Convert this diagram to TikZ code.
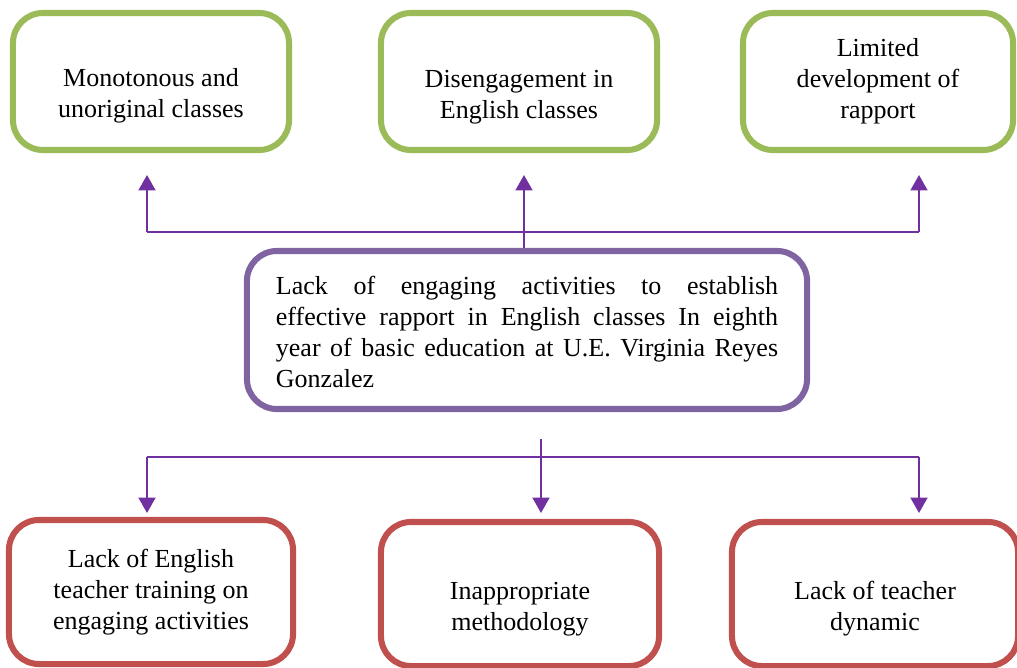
\documentclass[tikz,border=0pt]{standalone}
\usepackage{fontspec}
\setmainfont{Liberation Serif}
\usetikzlibrary{arrows.meta}

\definecolor{effgreen}{HTML}{9BBB59}
\definecolor{causered}{HTML}{C0504D}
\definecolor{corepurple}{HTML}{8064A2}
\definecolor{linkpurple}{HTML}{7030A0}

% invisible strut that pushes a box's text downwards
\newcommand{\dropby}[1]{\rule{0pt}{#1}}

\tikzset{
  treebox/.style={draw, line width=4.3pt, rounded corners=0.75cm, fill=white,
    align=center, font=\fontsize{18.5}{22}\selectfont, inner sep=0pt},
  effbox/.style={treebox, draw=effgreen, minimum height=3.425cm},
  causebox/.style={treebox, draw=causered, minimum height=3.6cm},
  link/.style={draw=linkpurple, line width=1.6pt},
  tip/.style={-{Triangle[width=12pt,length=11pt]}}
}

\begin{document}
\begin{tikzpicture}[x=0.025cm, y=-0.025cm]
    \useasboundingbox (0,0) rectangle (1017,668);
    \clip (0,0) rectangle (1017,668);

    % effects
    \node[effbox, minimum width=6.9cm] (eff1) at (151,81.5)
        {\dropby{32.5pt}Monotonous and\\unoriginal classes};
    \node[effbox, minimum width=6.9cm] (eff2) at (519,81.5)
        {\dropby{34pt}Disengagement in\\English classes};
    \node[effbox, minimum width=6.75cm] (eff3) at (878,81.5)
        {Limited\\development of\\rapport};

    % central problem
    \node[treebox, draw=corepurple, minimum width=14cm, minimum height=3.95cm,
          text width=12.55cm, align=justify] (core) at (527,330)
        {\dropby{16.2pt}Lack of engaging activities to establish\linebreak
         effective rapport in English classes In eighth\linebreak
         year of basic education at U.E. Virginia Reyes\linebreak
         Gonzalez};

    % causes
    \node[causebox, minimum width=7.1cm] (cause1) at (151,592)
        {Lack of English\\teacher training on\\engaging activities};
    \node[causebox, minimum width=6.95cm] (cause2) at (520,594)
        {\dropby{34pt}Inappropriate\\methodology};
    \node[causebox, minimum width=7.15cm] (cause3) at (875,594)
        {\dropby{33.5pt}Lack of teacher\\dynamic};

    % upper connectors
    \coordinate (tl) at (147,232);
    \coordinate (tr) at (919,232);
    \coordinate (up1) at (147,175);
    \coordinate (up2) at (524,175);
    \coordinate (up3) at (919,175);
    \draw[link] (tl) -- (tr);
    \draw[link,tip] (tl) -- (up1);
    \draw[link,tip] (core.north -| up2) -- (up2);
    \draw[link,tip] (tr) -- (up3);

    % lower connectors
    \coordinate (bl) at (147,457);
    \coordinate (br) at (919,457);
    \coordinate (stem) at (541,439);
    \coordinate (down1) at (147,513);
    \coordinate (down2) at (541,513);
    \coordinate (down3) at (919,513);
    \draw[link] (bl) -- (br);
    \draw[link,tip] (bl) -- (down1);
    \draw[link,tip] (stem) -- (down2);
    \draw[link,tip] (br) -- (down3);
\end{tikzpicture}
\end{document}
